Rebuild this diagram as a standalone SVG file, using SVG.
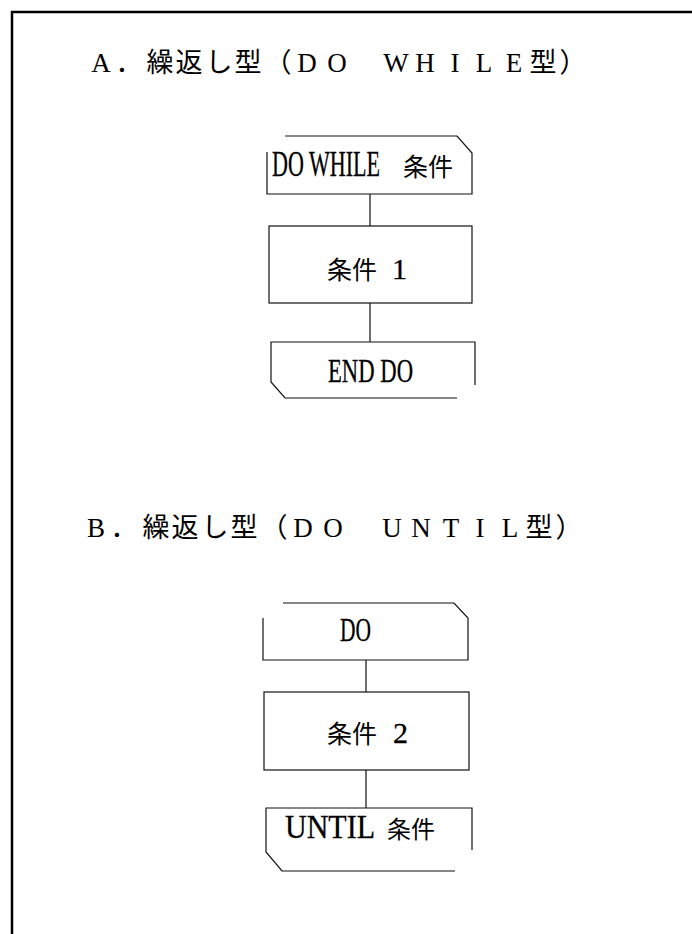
<svg xmlns="http://www.w3.org/2000/svg" width="692" height="934" viewBox="0 0 692 934">
<style>
.ln{fill:none;stroke:#111;stroke-width:1.2}
.frame{fill:none;stroke:#000;stroke-width:2.5}
.ttl{font-family:"Liberation Serif","Noto Sans CJK JP",serif;font-size:27px;fill:#000;text-anchor:middle}
.lat{font-family:"Liberation Serif","Noto Sans CJK JP",serif;fill:#000;stroke:#000;stroke-width:0.3}
.cjk{font-family:"Noto Sans CJK JP",sans-serif;fill:#000}
</style>
<rect width="692" height="934" fill="#fff"/>
<path class="frame" d="M12,934 V12 H692"/>
<text id="titleA" class="ttl" y="72" x="101 129 160 189 219 248 278 307 337 366 396 425 455 484 514 543 573">A．繰返し型（DO　WHILE型）</text>
<text id="titleB" class="ttl" y="537" x="96 124 156 185 215 244 274 303 333 362 392 421 451 480 510 539 569">B．繰返し型（DO　UNTIL型）</text>
<g id="connectors">
<path class="ln" d="M370,194 V226 M370,303 V342 M366,660 V692 M366,770 V808"/>
</g>
<g id="doWhile">
<path class="ln" d="M285,136 H457 L472,153 V194 H267 V152"/>
<text y="176"><tspan class="lat" x="272" font-size="35" textLength="108" lengthAdjust="spacingAndGlyphs">DO WHILE</tspan><tspan class="cjk" x="403" font-size="25">条件</tspan></text>
</g>
<g id="body1">
<rect class="ln" x="269" y="226" width="203" height="77"/>
<text y="279"><tspan class="cjk" x="327" font-size="25">条件</tspan><tspan class="lat" x="392" font-size="30">1</tspan></text>
</g>
<g id="endDo">
<path class="ln" d="M475,385 V342 H271 V382 L285,398 H457"/>
<text class="lat" x="328" y="382" font-size="33" textLength="85" lengthAdjust="spacingAndGlyphs">END DO</text>
</g>
<g id="do">
<path class="ln" d="M283,603 H454 L468,618 V660 H263 V618"/>
<text class="lat" x="340" y="641" font-size="33" textLength="31" lengthAdjust="spacingAndGlyphs">DO</text>
</g>
<g id="body2">
<rect class="ln" x="264" y="692" width="205" height="78"/>
<text y="743"><tspan class="cjk" x="327" font-size="25">条件</tspan><tspan class="lat" x="393" font-size="30">2</tspan></text>
</g>
<g id="until">
<path class="ln" d="M472,850 V808 H266 V852 L282,871 H455"/>
<text y="838"><tspan class="lat" x="285" font-size="33" textLength="90" lengthAdjust="spacingAndGlyphs">UNTIL</tspan><tspan class="cjk" x="387" font-size="24">条件</tspan></text>
</g>
</svg>
